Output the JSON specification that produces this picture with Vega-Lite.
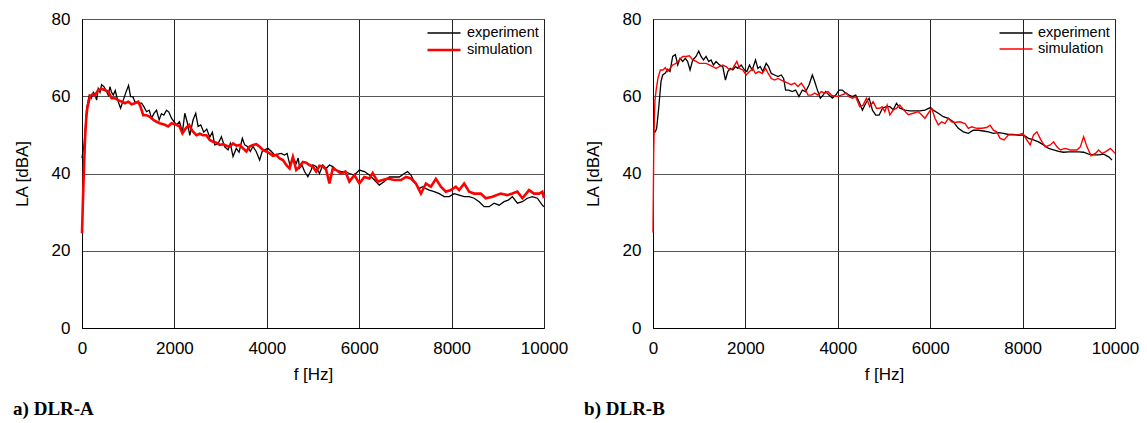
{
"$schema": "https://vega.github.io/schema/vega-lite/v6.json",
"padding": {"left": 12, "top": 9, "right": 5, "bottom": 3},
"background": "white",
"datasets": {
"a": [
{"f":0,"L":44,"s":"experiment"},{"f":50,"L":48,"s":"experiment"},{"f":101,"L":56.9,"s":"experiment"},{"f":157,"L":60.3,"s":"experiment"},{"f":200,"L":59.5,"s":"experiment"},{"f":245,"L":61,"s":"experiment"},{"f":280,"L":60.5,"s":"experiment"},{"f":316,"L":59,"s":"experiment"},{"f":352,"L":62,"s":"experiment"},{"f":390,"L":61,"s":"experiment"},{"f":424,"L":63,"s":"experiment"},{"f":475,"L":62.5,"s":"experiment"},{"f":520,"L":61.5,"s":"experiment"},{"f":568,"L":60.3,"s":"experiment"},{"f":605,"L":62.5,"s":"experiment"},{"f":640,"L":61,"s":"experiment"},{"f":677,"L":60.3,"s":"experiment"},{"f":720,"L":61.5,"s":"experiment"},{"f":750,"L":60,"s":"experiment"},{"f":784,"L":58.6,"s":"experiment"},{"f":835,"L":56.9,"s":"experiment"},{"f":893,"L":59,"s":"experiment"},{"f":950,"L":61,"s":"experiment"},{"f":1008,"L":62.8,"s":"experiment"},{"f":1051,"L":59.9,"s":"experiment"},{"f":1100,"L":59.9,"s":"experiment"},{"f":1145,"L":58.6,"s":"experiment"},{"f":1217,"L":58.2,"s":"experiment"},{"f":1289,"L":58.2,"s":"experiment"},{"f":1339,"L":57.3,"s":"experiment"},{"f":1397,"L":56,"s":"experiment"},{"f":1454,"L":56.4,"s":"experiment"},{"f":1505,"L":54.3,"s":"experiment"},{"f":1555,"L":55.5,"s":"experiment"},{"f":1613,"L":56.4,"s":"experiment"},{"f":1670,"L":53.9,"s":"experiment"},{"f":1720,"L":55.5,"s":"experiment"},{"f":1771,"L":55.1,"s":"experiment"},{"f":1829,"L":56.4,"s":"experiment"},{"f":1880,"L":55.9,"s":"experiment"},{"f":1937,"L":54.3,"s":"experiment"},{"f":1994,"L":53.4,"s":"experiment"},{"f":2045,"L":52.6,"s":"experiment"},{"f":2110,"L":53.4,"s":"experiment"},{"f":2174,"L":50.7,"s":"experiment"},{"f":2225,"L":55.6,"s":"experiment"},{"f":2275,"L":53.4,"s":"experiment"},{"f":2333,"L":49.9,"s":"experiment"},{"f":2405,"L":53.9,"s":"experiment"},{"f":2462,"L":55.6,"s":"experiment"},{"f":2513,"L":52.2,"s":"experiment"},{"f":2570,"L":52.6,"s":"experiment"},{"f":2635,"L":50.7,"s":"experiment"},{"f":2700,"L":51.5,"s":"experiment"},{"f":2765,"L":49.4,"s":"experiment"},{"f":2822,"L":50.7,"s":"experiment"},{"f":2873,"L":47.4,"s":"experiment"},{"f":2945,"L":47.7,"s":"experiment"},{"f":3017,"L":49.5,"s":"experiment"},{"f":3089,"L":46.9,"s":"experiment"},{"f":3161,"L":46.1,"s":"experiment"},{"f":3210,"L":47.8,"s":"experiment"},{"f":3269,"L":44.4,"s":"experiment"},{"f":3340,"L":46.5,"s":"experiment"},{"f":3400,"L":45.5,"s":"experiment"},{"f":3470,"L":49.1,"s":"experiment"},{"f":3521,"L":47.4,"s":"experiment"},{"f":3580,"L":47,"s":"experiment"},{"f":3643,"L":45.7,"s":"experiment"},{"f":3700,"L":47,"s":"experiment"},{"f":3770,"L":45.7,"s":"experiment"},{"f":3845,"L":43.5,"s":"experiment"},{"f":3900,"L":45.7,"s":"experiment"},{"f":3953,"L":46.1,"s":"experiment"},{"f":4025,"L":46.5,"s":"experiment"},{"f":4100,"L":45.7,"s":"experiment"},{"f":4169,"L":44.8,"s":"experiment"},{"f":4240,"L":45,"s":"experiment"},{"f":4313,"L":45.2,"s":"experiment"},{"f":4380,"L":44.8,"s":"experiment"},{"f":4440,"L":45.2,"s":"experiment"},{"f":4507,"L":41.8,"s":"experiment"},{"f":4570,"L":44,"s":"experiment"},{"f":4637,"L":42.6,"s":"experiment"},{"f":4680,"L":44,"s":"experiment"},{"f":4710,"L":41.4,"s":"experiment"},{"f":4760,"L":42.2,"s":"experiment"},{"f":4817,"L":40.5,"s":"experiment"},{"f":4889,"L":39.2,"s":"experiment"},{"f":4961,"L":40.9,"s":"experiment"},{"f":4996,"L":42.2,"s":"experiment"},{"f":5068,"L":41.8,"s":"experiment"},{"f":5140,"L":40,"s":"experiment"},{"f":5212,"L":42.2,"s":"experiment"},{"f":5284,"L":41.3,"s":"experiment"},{"f":5356,"L":42.2,"s":"experiment"},{"f":5428,"L":41.8,"s":"experiment"},{"f":5500,"L":40.9,"s":"experiment"},{"f":5608,"L":40.5,"s":"experiment"},{"f":5700,"L":40.5,"s":"experiment"},{"f":5788,"L":40,"s":"experiment"},{"f":5896,"L":39.6,"s":"experiment"},{"f":6004,"L":40.9,"s":"experiment"},{"f":6112,"L":40.5,"s":"experiment"},{"f":6220,"L":39.6,"s":"experiment"},{"f":6328,"L":38.3,"s":"experiment"},{"f":6436,"L":37,"s":"experiment"},{"f":6544,"L":37.9,"s":"experiment"},{"f":6652,"L":39.1,"s":"experiment"},{"f":6760,"L":39.1,"s":"experiment"},{"f":6868,"L":39.1,"s":"experiment"},{"f":6976,"L":40,"s":"experiment"},{"f":7048,"L":40.5,"s":"experiment"},{"f":7120,"L":39.6,"s":"experiment"},{"f":7192,"L":37.9,"s":"experiment"},{"f":7300,"L":36.1,"s":"experiment"},{"f":7372,"L":36.6,"s":"experiment"},{"f":7444,"L":36.1,"s":"experiment"},{"f":7516,"L":35.7,"s":"experiment"},{"f":7624,"L":35.3,"s":"experiment"},{"f":7732,"L":34.8,"s":"experiment"},{"f":7840,"L":34,"s":"experiment"},{"f":7948,"L":34,"s":"experiment"},{"f":8056,"L":34.8,"s":"experiment"},{"f":8164,"L":34.4,"s":"experiment"},{"f":8272,"L":34,"s":"experiment"},{"f":8380,"L":34,"s":"experiment"},{"f":8488,"L":33.6,"s":"experiment"},{"f":8596,"L":32.7,"s":"experiment"},{"f":8704,"L":31.4,"s":"experiment"},{"f":8812,"L":31.4,"s":"experiment"},{"f":8920,"L":32.3,"s":"experiment"},{"f":9028,"L":31.8,"s":"experiment"},{"f":9136,"L":32.7,"s":"experiment"},{"f":9226,"L":33.1,"s":"experiment"},{"f":9316,"L":34,"s":"experiment"},{"f":9424,"L":32.3,"s":"experiment"},{"f":9532,"L":32.7,"s":"experiment"},{"f":9640,"L":33.6,"s":"experiment"},{"f":9748,"L":34,"s":"experiment"},{"f":9856,"L":33.6,"s":"experiment"},{"f":9964,"L":31.8,"s":"experiment"},{"f":10000,"L":31.4,"s":"experiment"},
{"f":0,"L":24.5,"s":"simulation"},{"f":20,"L":33,"s":"simulation"},{"f":45,"L":42,"s":"simulation"},{"f":65,"L":49,"s":"simulation"},{"f":90,"L":54,"s":"simulation"},{"f":115,"L":57,"s":"simulation"},{"f":173,"L":60,"s":"simulation"},{"f":230,"L":60.5,"s":"simulation"},{"f":280,"L":60.2,"s":"simulation"},{"f":352,"L":61.6,"s":"simulation"},{"f":424,"L":61.9,"s":"simulation"},{"f":497,"L":61.6,"s":"simulation"},{"f":568,"L":61.2,"s":"simulation"},{"f":640,"L":59.5,"s":"simulation"},{"f":712,"L":59.5,"s":"simulation"},{"f":784,"L":59,"s":"simulation"},{"f":857,"L":58.6,"s":"simulation"},{"f":929,"L":58.2,"s":"simulation"},{"f":1001,"L":58.6,"s":"simulation"},{"f":1073,"L":57.9,"s":"simulation"},{"f":1145,"L":58.2,"s":"simulation"},{"f":1217,"L":58.6,"s":"simulation"},{"f":1267,"L":57.3,"s":"simulation"},{"f":1325,"L":55.1,"s":"simulation"},{"f":1397,"L":55.1,"s":"simulation"},{"f":1469,"L":54.7,"s":"simulation"},{"f":1541,"L":53.9,"s":"simulation"},{"f":1613,"L":53.4,"s":"simulation"},{"f":1685,"L":53,"s":"simulation"},{"f":1793,"L":52.6,"s":"simulation"},{"f":1865,"L":52.2,"s":"simulation"},{"f":1937,"L":53,"s":"simulation"},{"f":2045,"L":52.6,"s":"simulation"},{"f":2110,"L":52.2,"s":"simulation"},{"f":2174,"L":50.4,"s":"simulation"},{"f":2246,"L":51.7,"s":"simulation"},{"f":2318,"L":52.6,"s":"simulation"},{"f":2390,"L":51,"s":"simulation"},{"f":2477,"L":49.9,"s":"simulation"},{"f":2549,"L":50.3,"s":"simulation"},{"f":2621,"L":49.9,"s":"simulation"},{"f":2693,"L":49.9,"s":"simulation"},{"f":2765,"L":48.7,"s":"simulation"},{"f":2837,"L":48.2,"s":"simulation"},{"f":2909,"L":48,"s":"simulation"},{"f":2981,"L":47.4,"s":"simulation"},{"f":3053,"L":47.6,"s":"simulation"},{"f":3125,"L":47.2,"s":"simulation"},{"f":3197,"L":46.9,"s":"simulation"},{"f":3269,"L":47.8,"s":"simulation"},{"f":3341,"L":47.2,"s":"simulation"},{"f":3413,"L":47.4,"s":"simulation"},{"f":3485,"L":46.5,"s":"simulation"},{"f":3557,"L":45.7,"s":"simulation"},{"f":3629,"L":47,"s":"simulation"},{"f":3701,"L":47.4,"s":"simulation"},{"f":3773,"L":47.6,"s":"simulation"},{"f":3845,"L":46.9,"s":"simulation"},{"f":3917,"L":46.1,"s":"simulation"},{"f":3989,"L":45.7,"s":"simulation"},{"f":4061,"L":45.2,"s":"simulation"},{"f":4133,"L":44.6,"s":"simulation"},{"f":4205,"L":44.8,"s":"simulation"},{"f":4277,"L":43.9,"s":"simulation"},{"f":4349,"L":43.5,"s":"simulation"},{"f":4421,"L":42.2,"s":"simulation"},{"f":4493,"L":41.3,"s":"simulation"},{"f":4565,"L":44.3,"s":"simulation"},{"f":4637,"L":40.9,"s":"simulation"},{"f":4709,"L":41.8,"s":"simulation"},{"f":4781,"L":43,"s":"simulation"},{"f":4853,"L":42.8,"s":"simulation"},{"f":4925,"L":42.2,"s":"simulation"},{"f":4996,"L":41.8,"s":"simulation"},{"f":5068,"L":40.5,"s":"simulation"},{"f":5140,"L":42,"s":"simulation"},{"f":5212,"L":41.8,"s":"simulation"},{"f":5284,"L":41,"s":"simulation"},{"f":5356,"L":37.4,"s":"simulation"},{"f":5428,"L":41.3,"s":"simulation"},{"f":5500,"L":40.9,"s":"simulation"},{"f":5608,"L":40,"s":"simulation"},{"f":5700,"L":40.5,"s":"simulation"},{"f":5788,"L":37.9,"s":"simulation"},{"f":5896,"L":39.6,"s":"simulation"},{"f":6004,"L":37.4,"s":"simulation"},{"f":6112,"L":39.1,"s":"simulation"},{"f":6220,"L":38.7,"s":"simulation"},{"f":6292,"L":40.1,"s":"simulation"},{"f":6400,"L":37.9,"s":"simulation"},{"f":6508,"L":38.3,"s":"simulation"},{"f":6616,"L":38.7,"s":"simulation"},{"f":6760,"L":38.3,"s":"simulation"},{"f":6904,"L":38.3,"s":"simulation"},{"f":7012,"L":39.1,"s":"simulation"},{"f":7120,"L":38.7,"s":"simulation"},{"f":7228,"L":37.4,"s":"simulation"},{"f":7336,"L":34.8,"s":"simulation"},{"f":7444,"L":37.4,"s":"simulation"},{"f":7552,"L":36.6,"s":"simulation"},{"f":7660,"L":38.6,"s":"simulation"},{"f":7768,"L":36.6,"s":"simulation"},{"f":7876,"L":35.3,"s":"simulation"},{"f":7984,"L":35.7,"s":"simulation"},{"f":8092,"L":36.6,"s":"simulation"},{"f":8164,"L":35.7,"s":"simulation"},{"f":8272,"L":37.4,"s":"simulation"},{"f":8380,"L":35.3,"s":"simulation"},{"f":8488,"L":34.8,"s":"simulation"},{"f":8632,"L":34.8,"s":"simulation"},{"f":8740,"L":33.6,"s":"simulation"},{"f":8884,"L":34,"s":"simulation"},{"f":9064,"L":34.8,"s":"simulation"},{"f":9200,"L":34.4,"s":"simulation"},{"f":9316,"L":34.8,"s":"simulation"},{"f":9424,"L":35.3,"s":"simulation"},{"f":9532,"L":33.6,"s":"simulation"},{"f":9676,"L":35.7,"s":"simulation"},{"f":9784,"L":34.8,"s":"simulation"},{"f":9892,"L":34.8,"s":"simulation"},{"f":9964,"L":35.3,"s":"simulation"},{"f":10000,"L":33.6,"s":"simulation"}
],
"b": [
{"f":0,"L":50.8,"s":"experiment"},{"f":50,"L":50.8,"s":"experiment"},{"f":79,"L":51.7,"s":"experiment"},{"f":123,"L":56.9,"s":"experiment"},{"f":173,"L":63.8,"s":"experiment"},{"f":210,"L":65.5,"s":"experiment"},{"f":267,"L":66,"s":"experiment"},{"f":318,"L":67,"s":"experiment"},{"f":368,"L":66.4,"s":"experiment"},{"f":426,"L":70.3,"s":"experiment"},{"f":484,"L":70.8,"s":"experiment"},{"f":535,"L":68.1,"s":"experiment"},{"f":586,"L":69.8,"s":"experiment"},{"f":643,"L":69,"s":"experiment"},{"f":700,"L":69.8,"s":"experiment"},{"f":750,"L":69,"s":"experiment"},{"f":802,"L":66.8,"s":"experiment"},{"f":860,"L":69.4,"s":"experiment"},{"f":932,"L":70.3,"s":"experiment"},{"f":990,"L":71.7,"s":"experiment"},{"f":1040,"L":70.3,"s":"experiment"},{"f":1092,"L":69.4,"s":"experiment"},{"f":1149,"L":70.3,"s":"experiment"},{"f":1207,"L":69,"s":"experiment"},{"f":1257,"L":69.4,"s":"experiment"},{"f":1308,"L":68.1,"s":"experiment"},{"f":1365,"L":69,"s":"experiment"},{"f":1438,"L":68.1,"s":"experiment"},{"f":1510,"L":67.7,"s":"experiment"},{"f":1568,"L":64.2,"s":"experiment"},{"f":1619,"L":66.4,"s":"experiment"},{"f":1670,"L":67.2,"s":"experiment"},{"f":1728,"L":66.8,"s":"experiment"},{"f":1785,"L":67.7,"s":"experiment"},{"f":1836,"L":67.2,"s":"experiment"},{"f":1909,"L":68.1,"s":"experiment"},{"f":1981,"L":66.8,"s":"experiment"},{"f":2032,"L":66.4,"s":"experiment"},{"f":2089,"L":68.1,"s":"experiment"},{"f":2147,"L":66.8,"s":"experiment"},{"f":2219,"L":69.4,"s":"experiment"},{"f":2270,"L":67.2,"s":"experiment"},{"f":2320,"L":67.7,"s":"experiment"},{"f":2378,"L":66.4,"s":"experiment"},{"f":2450,"L":68.5,"s":"experiment"},{"f":2500,"L":67.7,"s":"experiment"},{"f":2560,"L":65.9,"s":"experiment"},{"f":2632,"L":65.5,"s":"experiment"},{"f":2704,"L":65.1,"s":"experiment"},{"f":2776,"L":65.5,"s":"experiment"},{"f":2827,"L":64.6,"s":"experiment"},{"f":2870,"L":61.6,"s":"experiment"},{"f":2942,"L":61.6,"s":"experiment"},{"f":3015,"L":61.2,"s":"experiment"},{"f":3087,"L":61.6,"s":"experiment"},{"f":3160,"L":59.9,"s":"experiment"},{"f":3232,"L":61.6,"s":"experiment"},{"f":3304,"L":61.2,"s":"experiment"},{"f":3377,"L":62.9,"s":"experiment"},{"f":3449,"L":65.5,"s":"experiment"},{"f":3500,"L":63.8,"s":"experiment"},{"f":3550,"L":61.9,"s":"experiment"},{"f":3622,"L":59.5,"s":"experiment"},{"f":3680,"L":60.3,"s":"experiment"},{"f":3738,"L":61.2,"s":"experiment"},{"f":3810,"L":60.3,"s":"experiment"},{"f":3882,"L":59.5,"s":"experiment"},{"f":3955,"L":60.3,"s":"experiment"},{"f":4027,"L":61.6,"s":"experiment"},{"f":4099,"L":61.6,"s":"experiment"},{"f":4171,"L":60.8,"s":"experiment"},{"f":4244,"L":60.3,"s":"experiment"},{"f":4316,"L":59.9,"s":"experiment"},{"f":4388,"L":60.3,"s":"experiment"},{"f":4461,"L":58.6,"s":"experiment"},{"f":4533,"L":56.4,"s":"experiment"},{"f":4605,"L":58.2,"s":"experiment"},{"f":4678,"L":59.5,"s":"experiment"},{"f":4750,"L":56.4,"s":"experiment"},{"f":4822,"L":55.1,"s":"experiment"},{"f":4894,"L":55.1,"s":"experiment"},{"f":4967,"L":56.9,"s":"experiment"},{"f":5050,"L":57.3,"s":"experiment"},{"f":5127,"L":57.3,"s":"experiment"},{"f":5200,"L":56.5,"s":"experiment"},{"f":5271,"L":58.2,"s":"experiment"},{"f":5343,"L":56.9,"s":"experiment"},{"f":5452,"L":56.4,"s":"experiment"},{"f":5561,"L":56.2,"s":"experiment"},{"f":5669,"L":56.2,"s":"experiment"},{"f":5777,"L":56.2,"s":"experiment"},{"f":5886,"L":56.4,"s":"experiment"},{"f":5994,"L":57,"s":"experiment"},{"f":6066,"L":56.4,"s":"experiment"},{"f":6175,"L":55.6,"s":"experiment"},{"f":6283,"L":54.7,"s":"experiment"},{"f":6392,"L":54.3,"s":"experiment"},{"f":6500,"L":53.4,"s":"experiment"},{"f":6609,"L":51.7,"s":"experiment"},{"f":6717,"L":50.8,"s":"experiment"},{"f":6826,"L":50.4,"s":"experiment"},{"f":6934,"L":51.2,"s":"experiment"},{"f":7043,"L":51.2,"s":"experiment"},{"f":7151,"L":51,"s":"experiment"},{"f":7260,"L":50.8,"s":"experiment"},{"f":7368,"L":50.4,"s":"experiment"},{"f":7477,"L":50.6,"s":"experiment"},{"f":7585,"L":50.4,"s":"experiment"},{"f":7694,"L":50.1,"s":"experiment"},{"f":7802,"L":50.1,"s":"experiment"},{"f":7911,"L":49.9,"s":"experiment"},{"f":8019,"L":50,"s":"experiment"},{"f":8128,"L":49.1,"s":"experiment"},{"f":8236,"L":48.7,"s":"experiment"},{"f":8345,"L":48.2,"s":"experiment"},{"f":8453,"L":47.4,"s":"experiment"},{"f":8562,"L":46.5,"s":"experiment"},{"f":8670,"L":46.1,"s":"experiment"},{"f":8779,"L":45.7,"s":"experiment"},{"f":8887,"L":45.5,"s":"experiment"},{"f":8996,"L":45.6,"s":"experiment"},{"f":9104,"L":45.6,"s":"experiment"},{"f":9213,"L":45.6,"s":"experiment"},{"f":9321,"L":45.5,"s":"experiment"},{"f":9430,"L":45,"s":"experiment"},{"f":9538,"L":44.8,"s":"experiment"},{"f":9647,"L":44.8,"s":"experiment"},{"f":9755,"L":45,"s":"experiment"},{"f":9863,"L":44.3,"s":"experiment"},{"f":9935,"L":43.5,"s":"experiment"},
{"f":0,"L":24.7,"s":"simulation"},{"f":15,"L":45,"s":"simulation"},{"f":30,"L":55,"s":"simulation"},{"f":43,"L":59,"s":"simulation"},{"f":72,"L":62,"s":"simulation"},{"f":108,"L":64.7,"s":"simulation"},{"f":159,"L":66.8,"s":"simulation"},{"f":217,"L":66.8,"s":"simulation"},{"f":267,"L":67.4,"s":"simulation"},{"f":318,"L":66.4,"s":"simulation"},{"f":368,"L":67.2,"s":"simulation"},{"f":426,"L":68.1,"s":"simulation"},{"f":498,"L":68.5,"s":"simulation"},{"f":571,"L":69.4,"s":"simulation"},{"f":643,"L":70.3,"s":"simulation"},{"f":715,"L":70.3,"s":"simulation"},{"f":788,"L":70.5,"s":"simulation"},{"f":860,"L":69.4,"s":"simulation"},{"f":932,"L":69,"s":"simulation"},{"f":1004,"L":68.5,"s":"simulation"},{"f":1076,"L":68.5,"s":"simulation"},{"f":1149,"L":68.5,"s":"simulation"},{"f":1221,"L":68.1,"s":"simulation"},{"f":1293,"L":67.7,"s":"simulation"},{"f":1365,"L":67.2,"s":"simulation"},{"f":1438,"L":67.7,"s":"simulation"},{"f":1510,"L":68.1,"s":"simulation"},{"f":1582,"L":67.7,"s":"simulation"},{"f":1655,"L":66.8,"s":"simulation"},{"f":1727,"L":67.2,"s":"simulation"},{"f":1814,"L":69,"s":"simulation"},{"f":1872,"L":67.2,"s":"simulation"},{"f":1944,"L":66.8,"s":"simulation"},{"f":2017,"L":65.5,"s":"simulation"},{"f":2089,"L":66.4,"s":"simulation"},{"f":2161,"L":67.2,"s":"simulation"},{"f":2219,"L":65.9,"s":"simulation"},{"f":2291,"L":66.4,"s":"simulation"},{"f":2364,"L":65.9,"s":"simulation"},{"f":2436,"L":67.2,"s":"simulation"},{"f":2494,"L":65.9,"s":"simulation"},{"f":2560,"L":64.6,"s":"simulation"},{"f":2632,"L":64.2,"s":"simulation"},{"f":2704,"L":64.6,"s":"simulation"},{"f":2776,"L":64.2,"s":"simulation"},{"f":2848,"L":63.8,"s":"simulation"},{"f":2920,"L":63.4,"s":"simulation"},{"f":2992,"L":63,"s":"simulation"},{"f":3064,"L":63.4,"s":"simulation"},{"f":3137,"L":62.5,"s":"simulation"},{"f":3210,"L":63.4,"s":"simulation"},{"f":3282,"L":62.1,"s":"simulation"},{"f":3355,"L":60.3,"s":"simulation"},{"f":3427,"L":60.3,"s":"simulation"},{"f":3500,"L":60.8,"s":"simulation"},{"f":3572,"L":60.3,"s":"simulation"},{"f":3644,"L":61.2,"s":"simulation"},{"f":3716,"L":60.8,"s":"simulation"},{"f":3789,"L":61.2,"s":"simulation"},{"f":3861,"L":60.3,"s":"simulation"},{"f":3933,"L":60,"s":"simulation"},{"f":4005,"L":60,"s":"simulation"},{"f":4077,"L":60.3,"s":"simulation"},{"f":4186,"L":60.8,"s":"simulation"},{"f":4244,"L":59.9,"s":"simulation"},{"f":4316,"L":59.5,"s":"simulation"},{"f":4388,"L":59.9,"s":"simulation"},{"f":4475,"L":57.3,"s":"simulation"},{"f":4547,"L":57.7,"s":"simulation"},{"f":4620,"L":59.5,"s":"simulation"},{"f":4692,"L":57.3,"s":"simulation"},{"f":4764,"L":58.6,"s":"simulation"},{"f":4837,"L":56.9,"s":"simulation"},{"f":4909,"L":56.9,"s":"simulation"},{"f":4960,"L":57.3,"s":"simulation"},{"f":5018,"L":56,"s":"simulation"},{"f":5068,"L":57.7,"s":"simulation"},{"f":5127,"L":55.2,"s":"simulation"},{"f":5199,"L":56.4,"s":"simulation"},{"f":5271,"L":56.9,"s":"simulation"},{"f":5343,"L":57.7,"s":"simulation"},{"f":5430,"L":56.4,"s":"simulation"},{"f":5524,"L":55.2,"s":"simulation"},{"f":5633,"L":55.6,"s":"simulation"},{"f":5741,"L":56,"s":"simulation"},{"f":5814,"L":55.2,"s":"simulation"},{"f":5886,"L":54.3,"s":"simulation"},{"f":5958,"L":55.6,"s":"simulation"},{"f":6031,"L":56.9,"s":"simulation"},{"f":6103,"L":54.3,"s":"simulation"},{"f":6175,"L":52.6,"s":"simulation"},{"f":6247,"L":53.4,"s":"simulation"},{"f":6319,"L":52.9,"s":"simulation"},{"f":6392,"L":54.3,"s":"simulation"},{"f":6464,"L":53.4,"s":"simulation"},{"f":6536,"L":53.2,"s":"simulation"},{"f":6645,"L":53.4,"s":"simulation"},{"f":6753,"L":52.9,"s":"simulation"},{"f":6826,"L":51.7,"s":"simulation"},{"f":6898,"L":52.1,"s":"simulation"},{"f":7007,"L":51.7,"s":"simulation"},{"f":7115,"L":51.7,"s":"simulation"},{"f":7224,"L":51.9,"s":"simulation"},{"f":7296,"L":52.5,"s":"simulation"},{"f":7368,"L":51.2,"s":"simulation"},{"f":7440,"L":50.8,"s":"simulation"},{"f":7513,"L":49.1,"s":"simulation"},{"f":7600,"L":48.7,"s":"simulation"},{"f":7694,"L":50,"s":"simulation"},{"f":7802,"L":50,"s":"simulation"},{"f":7911,"L":50,"s":"simulation"},{"f":8004,"L":50.4,"s":"simulation"},{"f":8091,"L":48.7,"s":"simulation"},{"f":8164,"L":47.4,"s":"simulation"},{"f":8236,"L":50,"s":"simulation"},{"f":8309,"L":50.8,"s":"simulation"},{"f":8395,"L":48.7,"s":"simulation"},{"f":8489,"L":46.9,"s":"simulation"},{"f":8598,"L":47.4,"s":"simulation"},{"f":8670,"L":48.2,"s":"simulation"},{"f":8743,"L":46.9,"s":"simulation"},{"f":8815,"L":46.1,"s":"simulation"},{"f":8923,"L":46.5,"s":"simulation"},{"f":9032,"L":46.1,"s":"simulation"},{"f":9177,"L":46.1,"s":"simulation"},{"f":9249,"L":46.9,"s":"simulation"},{"f":9321,"L":49.5,"s":"simulation"},{"f":9394,"L":46.9,"s":"simulation"},{"f":9481,"L":44.6,"s":"simulation"},{"f":9575,"L":45.2,"s":"simulation"},{"f":9647,"L":46.1,"s":"simulation"},{"f":9720,"L":45.2,"s":"simulation"},{"f":9792,"L":45.6,"s":"simulation"},{"f":9900,"L":46.5,"s":"simulation"},{"f":9972,"L":45.6,"s":"simulation"},{"f":10000,"L":45.2,"s":"simulation"}
]
},
"config": {
  "font": "Liberation Sans",
  "view": {"stroke": "black", "strokeWidth": 1},
  "axis": {
    "labelFont": "Liberation Sans", "labelFontSize": 17, "labelColor": "black",
    "titleFont": "Liberation Sans", "titleFontSize": 17, "titleFontWeight": "normal", "titleColor": "black",
    "domainColor": "black", "ticks": false, "labelPadding": 12,
    "gridOpacity": 1, "gridWidth": 1
  },
  "axisX": {"gridColor": "#222"},
  "axisY": {"gridColor": "#555"},
  "legend": {
    "symbolType": "M-2,0H2", "symbolSize": 272, "labelFont": "Liberation Sans", "labelFontSize": 14.5,
    "labelColor": "black", "padding": 0, "offset": 5, "rowPadding": 0, "labelOffset": 13
  }
},
"spacing": 109,
"bounds": "flush",
"resolve": {"scale": {"color": "independent", "strokeWidth": "independent"}, "legend": {"color": "independent", "strokeWidth": "independent"}},
"hconcat": [
{
  "width": 462, "height": 309,
  "data": {"name": "a"},
  "title": {"text": "a) DLR-A", "orient": "bottom", "anchor": "start", "font": "Liberation Serif", "fontWeight": "bold", "fontSize": 19, "offset": 18, "color": "black"},
  "mark": {"type": "line"},
  "encoding": {
    "x": {"field": "f", "type": "quantitative", "scale": {"domain": [0, 10000], "nice": false}, "axis": {"values": [0, 2000, 4000, 6000, 8000, 10000], "format": "d", "title": "f [Hz]", "labelFlush": false, "titlePadding": 10}},
    "y": {"field": "L", "type": "quantitative", "scale": {"domain": [0, 80], "nice": false}, "axis": {"values": [0, 20, 40, 60, 80], "title": "LA [dBA]", "titlePadding": 20}},
    "color": {"field": "s", "type": "ordinal", "scale": {"domain": ["experiment", "simulation"], "range": ["#000000", "#ff0000"]}, "legend": {"title": null, "orient": "top-right"}},
    "strokeWidth": {"field": "s", "type": "ordinal", "scale": {"domain": ["experiment", "simulation"], "range": [1.3, 2.6]}, "legend": {"title": null, "orient": "top-right"}}
  }
},
{
  "width": 462, "height": 309,
  "data": {"name": "b"},
  "title": {"text": "b) DLR-B", "orient": "bottom", "anchor": "start", "font": "Liberation Serif", "fontWeight": "bold", "fontSize": 19, "offset": 18, "color": "black"},
  "mark": {"type": "line"},
  "encoding": {
    "x": {"field": "f", "type": "quantitative", "scale": {"domain": [0, 10000], "nice": false}, "axis": {"values": [0, 2000, 4000, 6000, 8000, 10000], "format": "d", "title": "f [Hz]", "labelFlush": false, "titlePadding": 10}},
    "y": {"field": "L", "type": "quantitative", "scale": {"domain": [0, 80], "nice": false}, "axis": {"values": [0, 20, 40, 60, 80], "title": "LA [dBA]", "titlePadding": 20}},
    "color": {"field": "s", "type": "ordinal", "scale": {"domain": ["experiment", "simulation"], "range": ["#000000", "#ff0000"]}, "legend": {"title": null, "orient": "top-right"}},
    "strokeWidth": {"field": "s", "type": "ordinal", "scale": {"domain": ["experiment", "simulation"], "range": [1.3, 1.4]}, "legend": {"title": null, "orient": "top-right"}}
  }
}
]
}
